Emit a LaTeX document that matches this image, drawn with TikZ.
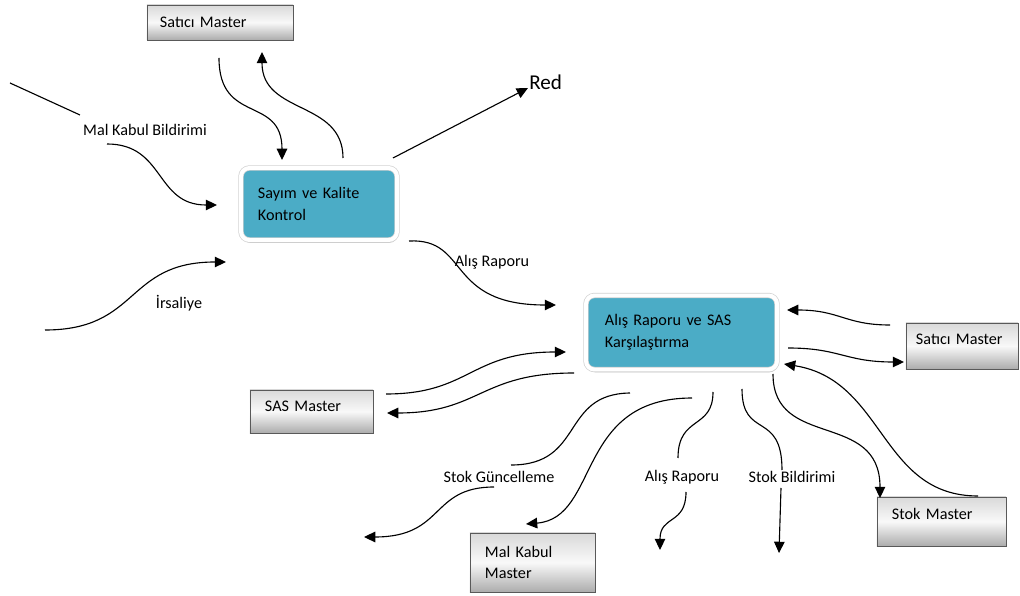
\documentclass[tikz,border=0pt]{standalone}
\usepackage{fontspec}
\setmainfont{Carlito}
\usetikzlibrary{arrows.meta,shadows}
\definecolor{kasten}{RGB}{75,172,198}

\begin{document}
\begin{tikzpicture}[x=0.025cm, y=-0.025cm,
	font=\fontsize{11.5}{15.5}\selectfont,
	pfeil/.style={line width=0.8pt, -{Triangle[length=8pt,width=7.5pt]}},
	linie/.style={line width=0.8pt},
	prozess/.style={rectangle, rounded corners=6pt, fill=kasten, draw=gray!35,
		double=white, double distance=2.8pt, line width=0.5pt, align=left,
		drop shadow={shadow xshift=0.5pt, shadow yshift=-2pt, opacity=0.45}},
	datei/.style={rectangle, draw=gray!70!black, line width=0.6pt, align=left,
		top color=gray!30, bottom color=gray!65, middle color=gray!5,
		drop shadow={shadow xshift=1pt, shadow yshift=-1pt, opacity=0.3}},
	hoch/.style={text height=8pt, text depth=#1}]
	\useasboundingbox (0,0) rectangle (1020,596);
	% Prozesse
	\node[prozess, minimum width=3.9cm, minimum height=1.8cm, text width=3.05cm]
		(sayim) at (319,204) {Sayım ve Kalite\\Kontrol};
	\node[prozess, minimum width=4.775cm, minimum height=1.85cm, text width=3.825cm]
		(alis) at (681.5,332.5) {Alış Raporu ve SAS\\Karşılaştırma};
	% Dateien
	\node[datei, minimum width=3.65cm, minimum height=0.875cm, text width=3cm]
		(satici1) at (220,22.5) {Satıcı Master};
	\node[datei, hoch=10.5pt, minimum width=2.8cm, minimum height=1.15cm, text width=2.3cm]
		(satici2) at (962,346) {Satıcı Master};
	\node[datei, hoch=8.5pt, minimum width=3.075cm, minimum height=1.075cm, text width=2.325cm]
		(sas) at (311.5,411.5) {SAS Master};
	\node[datei, minimum width=3.125cm, minimum height=1.475cm, text width=2.375cm]
		(malkabul) at (532.5,562.5) {Mal Kabul\\Master};
	\node[datei, hoch=11pt, minimum width=3.225cm, minimum height=1.225cm, text width=2.475cm]
		(stok) at (941.5,521.5) {Stok Master};
	% Beschriftungen
	\node (mkbil) at (145,130) {Mal Kabul Bildirimi};
	\node (irsaliye) at (179,303) {İrsaliye};
	\node (alisrap1) at (492,262) {Alış Raporu};
	\node (stokgun) at (499,477) {Stok Güncelleme};
	\node (alisrap2) at (682,477) {Alış Raporu};
	\node (stokbil) at (792,477) {Stok Bildirimi};
	\node[anchor=west, inner sep=0pt, font=\fontsize{15}{18}\selectfont] (red) at (529,82) {Red};
	% Endpunkte
	\coordinate (s1a) at (219,58);   \coordinate (s1b) at (282,160);
	\coordinate (s2a) at (343,158);  \coordinate (s2b) at (262,52);
	\coordinate (rda) at (393,158);  \coordinate (rdb) at (528,88);
	\coordinate (mka) at (10,83);    \coordinate (mkb) at (80,115);
	\coordinate (mkc) at (107,144);  \coordinate (mkd) at (217,205);
	\coordinate (ira) at (45,330);   \coordinate (irb) at (226,262);
	\coordinate (ara) at (409,241);  \coordinate (arb) at (556,305);
	\coordinate (sta) at (890,325);  \coordinate (stb) at (787,310);
	\coordinate (stc) at (788,348);  \coordinate (std) at (904,362);
	\coordinate (saa) at (386,394);  \coordinate (sab) at (566,352);
	\coordinate (sac) at (574,373);  \coordinate (sad) at (387,413);
	\coordinate (sga) at (630,393);  \coordinate (sgb) at (511,465);
	\coordinate (sgc) at (494,487);  \coordinate (sgd) at (364,537);
	\coordinate (mma) at (692,398);  \coordinate (mmb) at (526,524);
	\coordinate (a2a) at (713,392);  \coordinate (a2b) at (678,458);
	\coordinate (a2c) at (686,492);  \coordinate (a2d) at (660,550);
	\coordinate (sba) at (742,389);  \coordinate (sbb) at (782,470);
	\coordinate (sbc) at (781,488);  \coordinate (sbd) at (779,553);
	\coordinate (ska) at (773,374);  \coordinate (skb) at (880,498);
	\coordinate (skc) at (978,496);  \coordinate (skd) at (784,364);
	% Pfeile oben
	\draw[pfeil] (s1a) .. controls (219,125) and (282,95) .. (s1b);
	\draw[pfeil] (s2a) .. controls (343,100) and (262,115) .. (s2b);
	\draw[pfeil] (rda) -- (rdb);
	\draw[linie] (mka) -- (mkb);
	\draw[pfeil] (mkc) .. controls (165,144) and (155,205) .. (mkd);
	\draw[pfeil] (ira) .. controls (140,330) and (125,262) .. (irb);
	\draw[pfeil] (ara) .. controls (470,238) and (445,305) .. (arb);
	% Pfeile rechts
	\draw[pfeil] (sta) .. controls (845,325) and (840,310) .. (stb);
	\draw[pfeil] (stc) .. controls (840,348) and (845,362) .. (std);
	\draw[pfeil] (ska) .. controls (773,450) and (880,410) .. (skb);
	\draw[pfeil] (skc) .. controls (880,496) and (885,380) .. (skd);
	% Pfeile links
	\draw[pfeil] (saa) .. controls (470,394) and (470,352) .. (sab);
	\draw[pfeil] (sac) .. controls (480,373) and (480,413) .. (sad);
	% Pfeile unten
	\draw[linie] (sga) .. controls (560,394) and (585,465) .. (sgb);
	\draw[pfeil] (sgc) .. controls (430,487) and (445,537) .. (sgd);
	\draw[pfeil] (mma) .. controls (575,398) and (600,518) .. (mmb);
	\draw[linie] (a2a) .. controls (713,430) and (678,415) .. (a2b);
	\draw[pfeil] (a2c) .. controls (686,525) and (660,515) .. (a2d);
	\draw[linie] (sba) .. controls (742,440) and (782,410) .. (sbb);
	\draw[pfeil] (sbc) -- (sbd);
\end{tikzpicture}
\end{document}
